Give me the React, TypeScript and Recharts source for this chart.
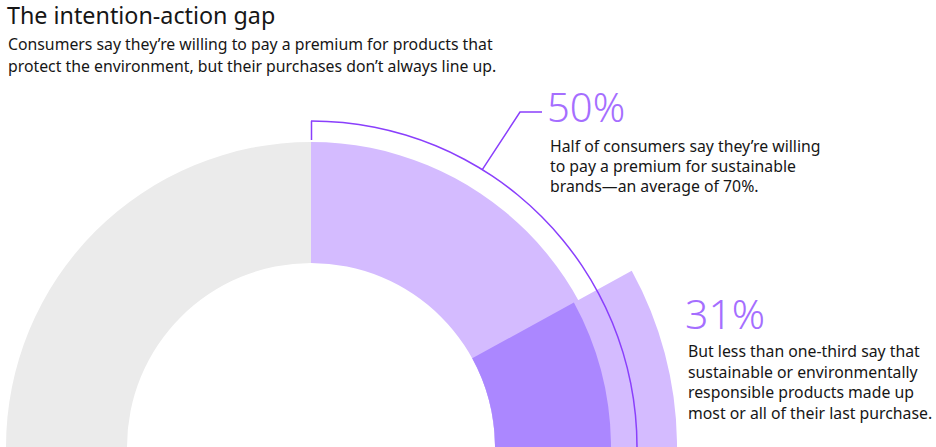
import { PieChart, Pie, Cell } from "recharts";

// Valores (porcentaje de consumidores)
const willingShare = [
  { name: "Dispuestos a pagar más", value: 50 },
  { name: "Resto", value: 50 },
];
// el tramo del 31% arranca algo por debajo de las 2 en punto (desfase estimado)
const purchaseShare = [
  { name: "offset", value: 17 },
  { name: "Compra sostenible", value: 31 },
  { name: "resto", value: 52 },
];
const bracketShare = [
  { name: "Corchete 50%", value: 50 },
  { name: "resto", value: 50 },
];

const W = 936;
const H = 447;
const CX = 311;
const CY = 447;
const R_IN = 184;
const R_OUT = 305;
const R_DARK = 300;
const R_BAND = 366;
const R_ARC = 326;

const C = {
  grey: "#ebebeb",
  light: "#d4bbff",
  dark: "#ab87ff",
  line: "#8a3ffc",
  big: "#a56eff",
  text: "#161616",
};
const FONT = "'Noto Sans', 'Open Sans', sans-serif";

// punto sobre el arco del corchete donde sale la línea guía
const leadDeg = 58.3;
const leadX = CX + R_ARC * Math.cos((leadDeg * Math.PI) / 180);
const leadY = CY - R_ARC * Math.sin((leadDeg * Math.PI) / 180);

export default function App() {
  return (
    <div style={{ position: "relative", width: W, height: H, overflow: "hidden", background: "#fff" }}>
      <style>{"body{margin:0;overflow:hidden}"}</style>
      <div style={{ position: "absolute", left: 0, top: 0 }}>
        <PieChart width={W} height={900} margin={{ top: 0, right: 0, bottom: 0, left: 0 }}>
          <Pie data={willingShare} dataKey="value" cx={CX} cy={CY} innerRadius={R_IN} outerRadius={R_OUT}
            startAngle={90} endAngle={-270} stroke="none" isAnimationActive={false}>
            <Cell fill={C.light} />
            <Cell fill={C.grey} />
          </Pie>
          <Pie data={purchaseShare} dataKey="value" cx={CX} cy={CY} innerRadius={R_IN} outerRadius={R_BAND}
            startAngle={90} endAngle={-270} stroke="none" isAnimationActive={false}>
            <Cell fill="transparent" />
            <Cell fill={C.light} />
            <Cell fill="transparent" />
          </Pie>
          <Pie data={purchaseShare} dataKey="value" cx={CX} cy={CY} innerRadius={R_IN} outerRadius={R_DARK}
            startAngle={90} endAngle={-270} stroke="none" isAnimationActive={false}>
            <Cell fill="transparent" />
            <Cell fill={C.dark} />
            <Cell fill="transparent" />
          </Pie>
          <Pie data={bracketShare} dataKey="value" cx={CX} cy={CY} innerRadius={R_ARC - 0.75} outerRadius={R_ARC + 0.75}
            startAngle={90} endAngle={-270} stroke="none" isAnimationActive={false}>
            <Cell fill={C.line} />
            <Cell fill="transparent" />
          </Pie>
        </PieChart>
      </div>
      <svg width={W} height={H} style={{ position: "absolute", left: 0, top: 0 }} fontFamily={FONT}>
        <line x1={CX + 0.5} y1={CY - R_ARC} x2={CX + 0.5} y2={CY - R_OUT - 2} stroke={C.line} strokeWidth={1.5} />
        <polyline points={`${leadX},${leadY} 520,112 542,112`} fill="none" stroke={C.line} strokeWidth={1.5} />

        <text x={7} y={24} fontSize={23.3} fill={C.text}>The intention-action gap</text>
        <text x={8} y={50} fontSize={15.8} fill={C.text}>Consumers say they’re willing to pay a premium for products that</text>
        <text x={8} y={72} fontSize={15.8} fill={C.text}>protect the environment, but their purchases don’t always line up.</text>

        <text x={547} y={122} fontSize={40} fontWeight={300} fill={C.big}>50%</text>
        <text x={550} y={152} fontSize={15.8} fill={C.text}>Half of consumers say they’re willing</text>
        <text x={550} y={172} fontSize={15.8} fill={C.text}>to pay a premium for sustainable</text>
        <text x={550} y={192} fontSize={15.8} fill={C.text}>brands—an average of 70%.</text>

        <text x={685} y={329} fontSize={41} fontWeight={300} fill={C.big}>31%</text>
        <text x={688} y={357} fontSize={15.8} fill={C.text}>But less than one-third say that</text>
        <text x={688} y={378} fontSize={15.8} fill={C.text}>sustainable or environmentally</text>
        <text x={688} y={398} fontSize={15.8} fill={C.text}>responsible products made up</text>
        <text x={688} y={419} fontSize={15.8} fill={C.text}>most or all of their last purchase.</text>
      </svg>
    </div>
  );
}
